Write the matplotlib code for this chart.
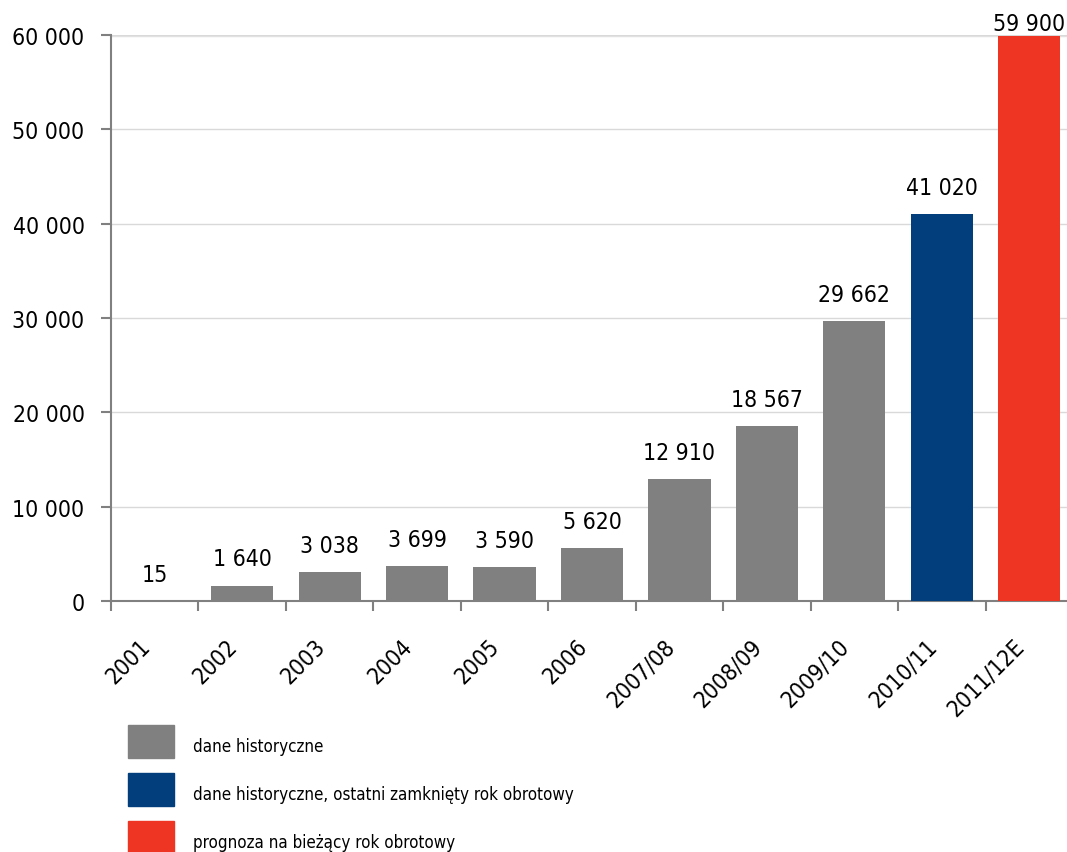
import numpy as np
import matplotlib.pyplot as plt
from matplotlib.patches import Rectangle
from matplotlib.transforms import ScaledTranslation

# dane z wykresu
years = ['2001', '2002', '2003', '2004', '2005', '2006',
         '2007/08', '2008/09', '2009/10', '2010/11', '2011/12E']
values = [15, 1640, 3038, 3699, 3590, 5620, 12910, 18567, 29662, 41020, 59900]
kinds = ['hist'] * 9 + ['last', 'forecast']

colors = {'hist': '#808080', 'last': '#023E7B', 'forecast': '#EE3524'}
legend_labels = {'hist': 'dane historyczne',
                 'last': 'dane historyczne, ostatni zamknięty rok obrotowy',
                 'forecast': 'prognoza na bieżący rok obrotowy'}

plt.rcParams['font.family'] = ['DejaVu Sans']
plt.rcParams['font.stretch'] = 'condensed'
W, H = 1067, 853
fs = 16.5

fig = plt.figure(figsize=(W / 100, H / 100), dpi=100)
ax = fig.add_axes([111 / W, 1 - 602 / H, (1073 - 111) / W, (602 - 36) / H])

x = np.arange(len(years))
ax.bar(x, values, width=0.71, color=[colors[k] for k in kinds], zorder=3)

# podpisy wartości
for xi, v in zip(x, values):
    txt = f'{v:,}'.replace(',', ' ')
    off = 1 if v >= 59000 else 11
    ax.annotate(txt, (xi, v), xytext=(0, off), textcoords='offset points',
                ha='center', va='bottom', fontsize=fs, zorder=4)

ax.set_xlim(-0.5, len(years) - 0.5)
ax.set_ylim(0, 60000)
yt = np.arange(0, 60001, 10000)
ax.set_yticks(yt)
ax.set_yticklabels([f'{t:,}'.replace(',', ' ') for t in yt], fontsize=fs)
ax.yaxis.grid(True, color='#d9d9d9', lw=1, zorder=0)
ax.axhline(60000, color='#e4e4e4', lw=2.5, zorder=0)

ax.set_xticks(x)
ax.set_xticklabels(years, rotation=45, ha='right', va='top', fontsize=fs)
shift = ScaledTranslation(5 / 100, 0, fig.dpi_scale_trans)
for lab in ax.get_xticklabels():
    lab.set_transform(lab.get_transform() + shift)
ax.set_xticks(np.arange(-0.5, len(years), 1), minor=True)
ax.tick_params(axis='x', which='major', length=0, pad=24)
ax.tick_params(axis='x', which='minor', length=7, width=1.5, color='#808080')
ax.tick_params(axis='y', length=7, width=1.5, color='#808080', pad=12)

for s in ['top', 'right']:
    ax.spines[s].set_visible(False)
for s in ['left', 'bottom']:
    ax.spines[s].set_color('#808080')
    ax.spines[s].set_linewidth(1.5)

# legenda pod wykresem
for i, k in enumerate(['hist', 'last', 'forecast']):
    top = 726 + i * 48
    fig.add_artist(Rectangle((128 / W, 1 - (top + 33) / H), 46 / W, 33 / H,
                             transform=fig.transFigure, color=colors[k]))
    fig.text(193 / W, 1 - (top + 21) / H, legend_labels[k],
             fontsize=12.2, va='center', ha='left')

fig.savefig('out.png', dpi=100)
